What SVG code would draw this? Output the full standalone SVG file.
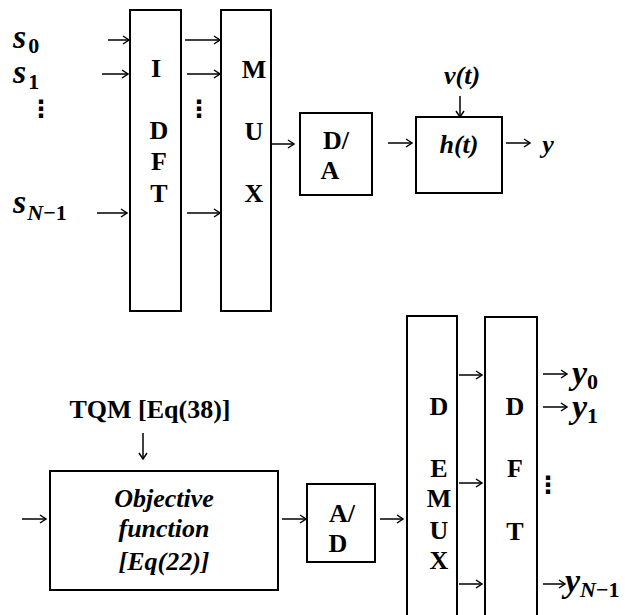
<svg xmlns="http://www.w3.org/2000/svg" width="630" height="615" viewBox="0 0 630 615">
<defs>
<marker id="ah" markerWidth="10" markerHeight="10" refX="8" refY="5" orient="auto" markerUnits="userSpaceOnUse">
<path d="M2,1 L8,5 L2,9" fill="none" stroke="#000" stroke-width="1.5"/>
</marker>
<style>
.box{fill:#fff;stroke:#000;stroke-width:2}
.lbl{font-family:"Liberation Serif","Times New Roman",serif;font-weight:bold;font-size:26px;fill:#000;text-anchor:middle}
.it{font-style:italic}
.m{font-family:"Liberation Serif","Times New Roman",serif;font-weight:bold;font-style:italic;font-size:34px;fill:#000}
.sub{font-family:"Liberation Serif","Times New Roman",serif;font-weight:bold;font-size:22px;fill:#000;font-style:normal}
.dots{font-family:"DejaVu Sans",sans-serif;font-weight:bold;font-size:24px;fill:#000;text-anchor:middle}
.ar{stroke:#000;stroke-width:1.5;fill:none;marker-end:url(#ah)}
</style>
</defs>
<rect width="630" height="615" fill="#fff"/>

<g id="inputs">
<text class="m" x="13" y="48">s<tspan class="sub" dx="2" dy="5">0</tspan></text>
<text class="m" x="13" y="83">s<tspan class="sub" dx="2" dy="6">1</tspan></text>
<text class="dots" x="41" y="117">⋮</text>
<text class="m" x="13" y="213">s<tspan class="sub" dx="1" dy="7"><tspan font-style="italic">N</tspan>−1</tspan></text>
</g>

<g id="idft">
<rect class="box" x="130" y="10" width="51" height="301"/>
<text class="lbl" x="156" y="77">I</text>
<text class="lbl" x="159" y="139">D</text>
<text class="lbl" x="159" y="170">F</text>
<text class="lbl" x="159" y="202">T</text>
</g>

<g id="mux">
<rect class="box" x="221" y="10" width="50" height="301"/>
<text class="lbl" x="254" y="78">M</text>
<text class="lbl" x="254" y="140">U</text>
<text class="lbl" x="254" y="202">X</text>
</g>
<text class="dots" x="199" y="117">⋮</text>

<g id="da">
<rect class="box" x="300" y="113" width="72" height="82"/>
<text class="lbl" x="336" y="149">D/</text>
<text class="lbl" x="330" y="179">A</text>
</g>

<g id="ht">
<rect class="box" x="416" y="117" width="86" height="76"/>
<text class="lbl it" x="459" y="153">h(t)</text>
</g>
<text class="lbl it" x="462" y="84">v(t)</text>
<text class="lbl it" x="548" y="153">y</text>

<g id="objective">
<rect class="box" x="50" y="471" width="228" height="119"/>
<text class="lbl it" x="164" y="507">Objective</text>
<text class="lbl it" x="164" y="537">function</text>
<text class="lbl it" x="164" y="570">[Eq(22)]</text>
</g>
<text class="lbl" x="150" y="418">TQM [Eq(38)]</text>

<g id="ad">
<rect class="box" x="307" y="484" width="68" height="78"/>
<text class="lbl" x="342" y="522">A/</text>
<text class="lbl" x="338" y="552">D</text>
</g>

<g id="demux">
<rect class="box" x="407" y="316" width="50" height="310"/>
<text class="lbl" x="439" y="415">D</text>
<text class="lbl" x="439" y="477">E</text>
<text class="lbl" x="439" y="507">M</text>
<text class="lbl" x="439" y="539">U</text>
<text class="lbl" x="439" y="569">X</text>
</g>

<g id="dft">
<rect class="box" x="485" y="317" width="52" height="310"/>
<text class="lbl" x="515" y="415">D</text>
<text class="lbl" x="515" y="477">F</text>
<text class="lbl" x="515" y="540">T</text>
</g>

<g id="outputs">
<text class="m" x="572" y="384">y<tspan class="sub" dy="5">0</tspan></text>
<text class="m" x="572" y="418">y<tspan class="sub" dy="5">1</tspan></text>
<text class="dots" x="548" y="493">⋮</text>
<text class="m" x="565" y="592">y<tspan class="sub" dy="5"><tspan font-style="italic">N</tspan>−1</tspan></text>
</g>

<g id="connectors">
<line class="ar" x1="108" y1="40" x2="129" y2="40"/>
<line class="ar" x1="102" y1="74" x2="128" y2="74"/>
<line class="ar" x1="97" y1="213" x2="127" y2="213"/>
<line class="ar" x1="185" y1="40" x2="220" y2="40"/>
<line class="ar" x1="187" y1="74" x2="220" y2="74"/>
<line class="ar" x1="187" y1="213" x2="220" y2="213"/>
<line class="ar" x1="272" y1="144" x2="294" y2="144"/>
<line class="ar" x1="388" y1="143" x2="412" y2="143"/>
<line class="ar" x1="460" y1="96" x2="460" y2="117"/>
<line class="ar" x1="506" y1="143" x2="530" y2="143"/>
<line class="ar" x1="143" y1="433" x2="143" y2="459"/>
<line class="ar" x1="22" y1="519" x2="46" y2="519"/>
<line class="ar" x1="282" y1="519" x2="306" y2="519"/>
<line class="ar" x1="380" y1="519" x2="403" y2="519"/>
<line class="ar" x1="459" y1="375" x2="482" y2="375"/>
<line class="ar" x1="459" y1="483" x2="482" y2="483"/>
<line class="ar" x1="459" y1="584" x2="482" y2="584"/>
<line class="ar" x1="543" y1="374" x2="567" y2="374"/>
<line class="ar" x1="543" y1="407" x2="567" y2="407"/>
<line class="ar" x1="543" y1="584" x2="565" y2="584"/>
</g>
</svg>
